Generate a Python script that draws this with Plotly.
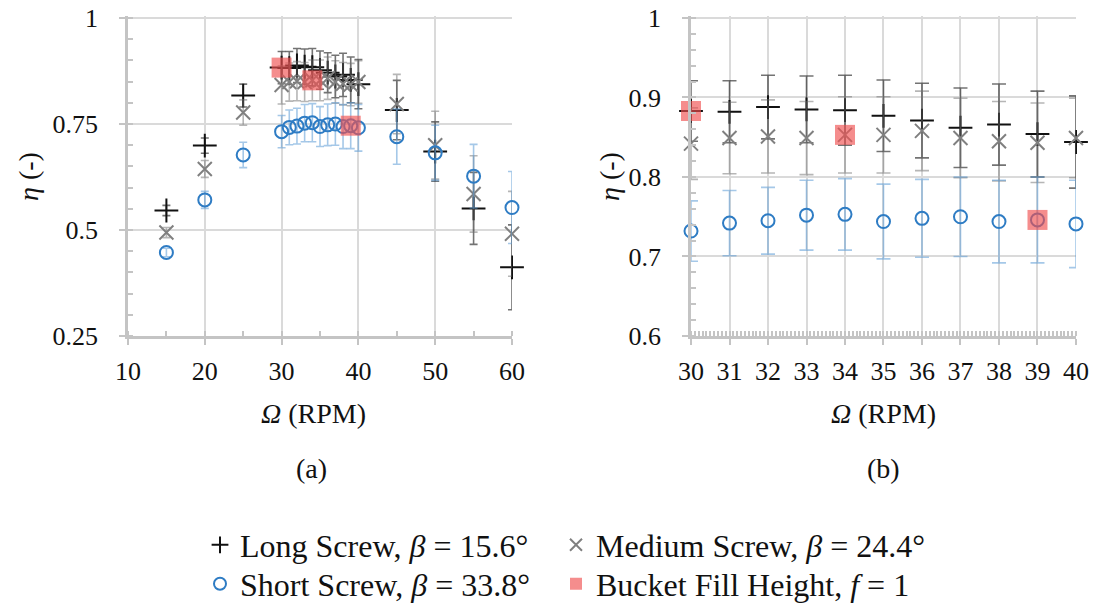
import plotly.graph_objects as go

# ---------------- data ----------------
rpm = [15, 20, 25, 30, 31, 32, 33, 34, 35, 36, 37, 38, 39, 40, 45, 50, 55, 60]
long_eta = [0.546, 0.699, 0.817, 0.883, 0.882, 0.888, 0.885, 0.884, 0.877, 0.871,
            0.862, 0.866, 0.854, 0.844, 0.783, 0.685, 0.551, 0.412]
long_err = [0.012, 0.018, 0.027, 0.038, 0.039, 0.040, 0.042, 0.044, 0.045, 0.047,
            0.050, 0.051, 0.054, 0.058, 0.070, 0.070, 0.085, 0.100]
medium_eta = [0.494, 0.644, 0.777, 0.842, 0.849, 0.851, 0.849, 0.853, 0.853, 0.858,
              0.849, 0.845, 0.843, 0.849, 0.797, 0.700, 0.585, 0.491]
medium_err = [0.012, 0.020, 0.030, 0.045, 0.045, 0.046, 0.046, 0.048, 0.048, 0.050,
              0.050, 0.050, 0.050, 0.050, 0.070, 0.080, 0.090, 0.100]
short_eta = [0.447, 0.571, 0.677, 0.732, 0.742, 0.745, 0.752, 0.753, 0.744, 0.748,
             0.750, 0.744, 0.746, 0.741, 0.720, 0.682, 0.627, 0.553]
short_err = [0.010, 0.020, 0.030, 0.038, 0.041, 0.042, 0.044, 0.045, 0.047, 0.049,
             0.050, 0.052, 0.054, 0.055, 0.065, 0.065, 0.075, 0.085]
bucket_rpm = [30, 34, 39]
bucket_eta = [0.883, 0.853, 0.746]

series_names = ["Long Screw, <i>β</i> = 15.6°", "Medium Screw, <i>β</i> = 24.4°",
                "Short Screw, <i>β</i> = 33.8°", "Bucket Fill Height, <i>f</i> = 1"]

# ---------------- figure ----------------
W, H = 1094, 604
SERIF = "Liberation Serif, Times New Roman, serif"

fig = go.Figure()

styles = [
    dict(y=long_eta, e=long_err, symbol="cross-thin", color="#111111", size=17,
         ecolor="rgba(0,0,0,0.55)", legend="legend"),
    dict(y=medium_eta, e=medium_err, symbol="x-thin", color="#808080", size=14,
         ecolor="rgba(110,110,110,0.5)", legend="legend2"),
    dict(y=short_eta, e=short_err, symbol="circle-open", color="#2e7cc4", size=13,
         ecolor="rgba(91,155,213,0.55)", legend="legend3"),
]

for panel, (xa, ya, lo, hi, capw) in enumerate([("x", "y", 10, 60, 4), ("x2", "y2", 30, 40, 7)]):
    for i, st in enumerate(styles):
        idx = [k for k, r in enumerate(rpm) if lo <= r <= hi]
        fig.add_trace(go.Scatter(
            x=[rpm[k] for k in idx], y=[st["y"][k] for k in idx],
            mode="markers", name=series_names[i], legendgroup=str(i), legend=st["legend"],
            showlegend=(panel == 0), xaxis=xa, yaxis=ya, cliponaxis=False,
            marker=dict(symbol=st["symbol"], size=st["size"], color=st["color"],
                        line=dict(width=2, color=st["color"])),
            error_y=dict(type="data", array=[st["e"][k] for k in idx],
                         color=st["ecolor"], thickness=1.6, width=capw),
        ))
    fig.add_trace(go.Scatter(
        x=bucket_rpm, y=bucket_eta, mode="markers", name=series_names[3],
        legendgroup="3", legend="legend4", showlegend=(panel == 0),
        xaxis=xa, yaxis=ya, cliponaxis=False,
        marker=dict(symbol="square", size=20, color="rgba(240,80,80,0.65)",
                    line=dict(width=0)),
    ))


def px_x(p):
    return p / W


def px_y(p):
    return 1 - p / H


# y ranges slightly extended above 1 so the top grid line at 1 is kept;
# the domain top is moved up by the same amount so 1 stays at 18 px.
Y_BOT = 336
Y_ONE = 18
y1_range = [0.25, 1.005]
y2_range = [0.6, 1.003]
y1_top = Y_BOT - (y1_range[1] - y1_range[0]) / (1 - y1_range[0]) * (Y_BOT - Y_ONE)
y2_top = Y_BOT - (y2_range[1] - y2_range[0]) / (1 - y2_range[0]) * (Y_BOT - Y_ONE)

axis_common = dict(
    showline=True, linecolor="#c4c4c4", linewidth=2.5,
    showgrid=True, gridcolor="#dadada", gridwidth=1.5,
    zeroline=False, ticks="outside", ticklen=6, tickwidth=2, tickcolor="#c4c4c4",
    tickfont=dict(family=SERIF, size=26, color="#111111"),
    ticklabeloverflow="allow",
)

legend_common = dict(orientation="v", xanchor="left", yanchor="middle",
                     font=dict(family=SERIF, size=32, color="#111111"),
                     traceorder="normal", itemsizing="constant", tracegroupgap=0,
                     bgcolor="rgba(0,0,0,0)")

fig.update_layout(
    width=W, height=H,
    margin=dict(l=0, r=0, t=0, b=0, autoexpand=False),
    paper_bgcolor="white", plot_bgcolor="white",
    font=dict(family=SERIF),
    xaxis=dict(axis_common, domain=[px_x(128), px_x(512)], range=[10, 60.001],
               tick0=10, dtick=10, anchor="y", ticklabelstandoff=4,
               minor=dict(dtick=5, ticks="inside", ticklen=5, tickcolor="#c4c4c4",
                          tickwidth=1.5, showgrid=False)),
    yaxis=dict(axis_common, domain=[px_y(Y_BOT), px_y(y1_top)], range=y1_range,
               tick0=0.25, dtick=0.25, anchor="x", ticklabelstandoff=16,
               minor=dict(dtick=0.05, ticks="inside", ticklen=5, tickcolor="#c4c4c4",
                          tickwidth=1.5, showgrid=False)),
    xaxis2=dict(axis_common, domain=[px_x(691), px_x(1076)], range=[30, 40.0003],
                tick0=30, dtick=1, anchor="y2", ticklabelstandoff=4,
                minor=dict(dtick=0.1, ticks="inside", ticklen=5, tickcolor="#c4c4c4",
                           tickwidth=1.5, showgrid=False)),
    yaxis2=dict(axis_common, domain=[px_y(Y_BOT), px_y(y2_top)], range=y2_range,
                tick0=0.6, dtick=0.1, anchor="x2", ticklabelstandoff=16,
                minor=dict(dtick=0.02, ticks="inside", ticklen=5, tickcolor="#c4c4c4",
                           tickwidth=1.5, showgrid=False)),
    legend=dict(legend_common, x=px_x(200), y=px_y(545)),
    legend2=dict(legend_common, x=px_x(556), y=px_y(545)),
    legend3=dict(legend_common, x=px_x(200), y=px_y(584)),
    legend4=dict(legend_common, x=px_x(556), y=px_y(584)),
    showlegend=True,
)

ann_font = dict(family=SERIF, size=28, color="#111111")
annotations = [
    dict(text="<i>η</i> (-)", x=px_x(28), y=px_y(177), textangle=-90),
    dict(text="<i>η</i> (-)", x=px_x(609), y=px_y(177), textangle=-90),
    dict(text="<i>Ω</i> (RPM)", x=px_x(313), y=px_y(413)),
    dict(text="<i>Ω</i> (RPM)", x=px_x(883), y=px_y(413)),
    dict(text="(a)", x=px_x(311), y=px_y(468)),
    dict(text="(b)", x=px_x(883), y=px_y(468)),
]
for a in annotations:
    fig.add_annotation(xref="paper", yref="paper", showarrow=False,
                       xanchor="center", yanchor="middle", font=ann_font, **a)

# remove the default 8px page margin so the 1094x604 figure fills the window exactly
fig.write_html("out.html", config={"displayModeBar": False},
               post_script="document.body.style.margin='0px';")
